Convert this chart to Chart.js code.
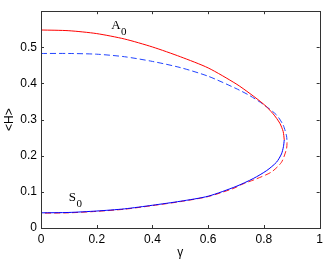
<!DOCTYPE html>
<html>
<head>
<meta charset="utf-8">
<script src="https://cdn.jsdelivr.net/npm/chart.js@4"></script>
<style>
  html, body { margin: 0; padding: 0; background: #fff; }
  #wrap { width: 327px; height: 260px; position: relative; }
</style>
</head>
<body>
<div id="wrap"><canvas id="chart"></canvas></div>
<script>
// Upper branch (red, solid) and lower branch (blue, solid)
const redSolidX = [0, 0.1, 0.2, 0.3, 0.4, 0.5, 0.6, 0.7, 0.75, 0.8, 0.833, 0.857, 0.869, 0.873];
const redSolidY = [0.548, 0.546, 0.538, 0.523, 0.501, 0.474, 0.443, 0.399, 0.372, 0.342, 0.316, 0.29, 0.267, 0.244];
const blueSolidX = [0.873, 0.87, 0.863, 0.845, 0.81, 0.762, 0.7, 0.6, 0.5, 0.4, 0.3, 0.2, 0.1, 0];
const blueSolidY = [0.244, 0.225, 0.205, 0.182, 0.159, 0.137, 0.115, 0.088, 0.074, 0.063, 0.053, 0.047, 0.043, 0.042];

// Upper branch (blue, dashed) and lower branch (red, dashed)
const blueDashX = [0, 0.1, 0.2, 0.3, 0.4, 0.5, 0.6, 0.7, 0.75, 0.8, 0.845, 0.869, 0.881, 0.883];
const blueDashY = [0.483, 0.483, 0.481, 0.474, 0.461, 0.444, 0.42, 0.386, 0.366, 0.341, 0.313, 0.285, 0.255, 0.237];
const redDashX = [0.883, 0.881, 0.863, 0.827, 0.773, 0.725, 0.689, 0.6, 0.5, 0.4, 0.3, 0.2, 0.1, 0];
const redDashY = [0.237, 0.219, 0.182, 0.155, 0.136, 0.122, 0.109, 0.087, 0.073, 0.062, 0.052, 0.046, 0.042, 0.041];

// Curve labels: [text, subscript, x, y] in data units
const curveLabels = [
  ['A', '0', 0.252, 0.552],
  ['S', '0', 0.1, 0.076]
];

const toPoints = (xs, ys) => xs.map((x, i) => ({ x: x, y: ys[i] }));

function line(xs, ys, color, dash) {
  return {
    data: toPoints(xs, ys),
    borderColor: color,
    borderWidth: 1,
    borderDash: dash,
    showLine: true,
    pointRadius: 0,
    tension: 0.25
  };
}

// Box with inward ticks, like the original plot
const boxPlugin = {
  id: 'box',
  afterDraw(chart) {
    const { ctx, chartArea: a, scales } = chart;
    ctx.save();
    ctx.strokeStyle = '#333';
    ctx.lineWidth = 1;
    ctx.strokeRect(Math.round(a.left) + 0.5, Math.round(a.top) + 0.5,
      Math.round(a.right - a.left), Math.round(a.bottom - a.top));
    const len = 3;
    ctx.beginPath();
    scales.x.ticks.forEach(t => {
      const px = Math.round(scales.x.getPixelForValue(t.value)) + 0.5;
      ctx.moveTo(px, a.bottom); ctx.lineTo(px, a.bottom - len);
      ctx.moveTo(px, a.top); ctx.lineTo(px, a.top + len);
    });
    scales.y.ticks.forEach(t => {
      const py = Math.round(scales.y.getPixelForValue(t.value)) + 0.5;
      ctx.moveTo(a.left, py); ctx.lineTo(a.left + len, py);
      ctx.moveTo(a.right, py); ctx.lineTo(a.right - len, py);
    });
    ctx.stroke();

    // curve labels
    ctx.fillStyle = '#000';
    ctx.textBaseline = 'alphabetic';
    curveLabels.forEach(([txt, sub, x, y]) => {
      const px = scales.x.getPixelForValue(x);
      const py = scales.y.getPixelForValue(y);
      ctx.font = '13px "Liberation Serif"';
      ctx.fillText(txt, px, py);
      const w = ctx.measureText(txt).width;
      ctx.font = '11px "Liberation Serif"';
      ctx.fillText(sub, px + w + 0.5, py + 6);
    });
    ctx.restore();
  }
};

const fmt = v => String(parseFloat(Number(v).toFixed(2)));

new Chart(document.getElementById('chart'), {
  type: 'scatter',
  data: {
    datasets: [
      line(redSolidX, redSolidY, '#ff0000', []),
      line(blueSolidX, blueSolidY, '#0000ff', []),
      line(blueDashX, blueDashY, '#2244ff', [6, 3]),
      line(redDashX, redDashY, '#ff2222', [6, 3])
    ]
  },
  options: {
    responsive: true,
    maintainAspectRatio: false,
    animation: false,
    layout: { padding: { top: 9, right: 7, left: 2, bottom: 0 } },
    plugins: {
      legend: { display: false },
      tooltip: { enabled: false }
    },
    scales: {
      x: {
        type: 'linear',
        min: 0,
        max: 1,
        grid: { display: false, drawTicks: false },
        border: { display: false },
        afterFit: s => { s.height = 32; },
        ticks: {
          stepSize: 0.2,
          padding: 4,
          color: '#000',
          maxRotation: 0,
          font: { family: '"Liberation Sans"', size: 12 },
          callback: fmt
        },
        title: {
          display: true,
          text: 'γ',
          color: '#000',
          padding: { top: 0, bottom: 0 },
          font: { family: '"Liberation Sans"', size: 12 }
        }
      },
      y: {
        type: 'linear',
        min: 0,
        max: 0.6,
        grid: { display: false, drawTicks: false },
        border: { display: false },
        afterFit: s => { s.width = 39; },
        ticks: {
          stepSize: 0.1,
          padding: 4,
          includeBounds: false,
          color: '#000',
          font: { family: '"Liberation Sans"', size: 12 },
          callback: v => v > 0.55 ? '' : fmt(v)
        },
        title: {
          display: true,
          text: '<H>',
          color: '#000',
          padding: { top: 0, bottom: 0 },
          font: { family: '"Liberation Sans"', size: 12 }
        }
      }
    }
  },
  plugins: [boxPlugin]
});
</script>
</body>
</html>
